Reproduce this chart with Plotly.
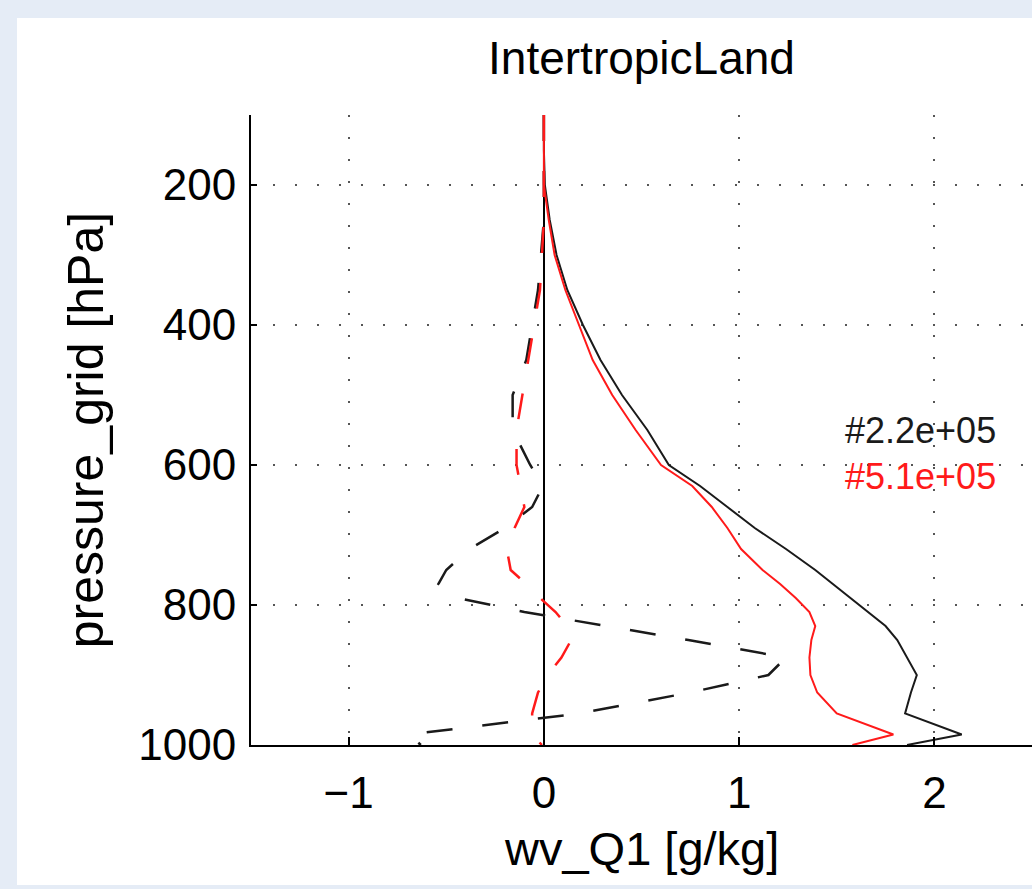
import plotly.graph_objects as go

# --- dados ---
# niveis de pressao (hPa)
pressure = [100, 150, 200, 250, 300, 350, 400, 450, 500, 550, 600, 630, 660,
            690, 720, 750, 770, 790, 810, 830, 850, 875, 900, 925, 955, 985, 1000]

# perfis medios wv_Q1 (linhas cheias)
wv_q1_black = [0.0, 0.0, 0.005, 0.03, 0.065, 0.12, 0.20, 0.29, 0.40, 0.53, 0.64, 0.80, 0.94,
               1.08, 1.24, 1.39, 1.48, 1.57, 1.66, 1.75, 1.81, 1.86, 1.91, 1.88, 1.85, 2.14, 1.86]
wv_q1_red = [0.0, 0.0, 0.0, 0.025, 0.055, 0.11, 0.18, 0.25, 0.35, 0.47, 0.60, 0.76, 0.86,
             0.94, 1.01, 1.12, 1.21, 1.29, 1.36, 1.39, 1.37, 1.36, 1.365, 1.40, 1.50, 1.79, 1.58]

# linhas tracejadas
dash_black = [0.0, 0.0, 0.0, 0.0, -0.015, -0.03, -0.06, -0.09, -0.16, -0.16, -0.07, -0.005, -0.06,
              -0.20, -0.38, -0.50, -0.54, -0.44, -0.10, 0.32, 0.74, 1.24, 1.15, 0.75, 0.18, -0.69, -0.63]
dash_red = [0.0, 0.0, 0.0, 0.0, -0.01, -0.02, -0.05, -0.08, -0.11, -0.14, -0.14, -0.12, -0.10,
            -0.15, -0.19, -0.17, -0.09, -0.02, 0.06, 0.12, 0.14, 0.09, 0.02, -0.03, -0.06, -0.06, -0.01]

count_black = "#2.2e+05"
count_red = "#5.1e+05"

x_ticks = [-1, 0, 1, 2]
y_ticks = [200, 400, 600, 800, 1000]

FONT = "Liberation Sans, Arial, sans-serif"

fig = go.Figure()

fig.add_trace(go.Scatter(x=wv_q1_black, y=pressure, mode="lines",
                         line=dict(color="#1a1a1a", width=2)))
fig.add_trace(go.Scatter(x=wv_q1_red, y=pressure, mode="lines",
                         line=dict(color="#ff1a1a", width=2)))
fig.add_trace(go.Scatter(x=dash_black, y=pressure, mode="lines",
                         line=dict(color="#1a1a1a", width=2.5, dash="26px,30px")))
fig.add_trace(go.Scatter(x=dash_red, y=pressure, mode="lines",
                         line=dict(color="#ff1a1a", width=2.5, dash="26px,30px")))

eixo = dict(
    showgrid=True, gridcolor="#555", gridwidth=1.5, griddash="2px,20px",
    showline=True, linecolor="black", linewidth=2,
    ticks="inside", tickcolor="black", tickwidth=1.5,
    tickfont=dict(family=FONT, size=44, color="black"),
)

fig.update_xaxes(range=[-1.5, 2.5], tickvals=x_ticks, ticklen=8,
                 zeroline=True, zerolinecolor="black", zerolinewidth=1.5,
                 ticklabelstandoff=8, **eixo)
fig.update_yaxes(range=[1000, 100], tickvals=y_ticks, ticklen=6,
                 zeroline=False, ticklabelstandoff=4, **eixo)

fig.update_layout(
    width=1032, height=889,
    margin=dict(l=251, r=0, t=115, b=144),
    paper_bgcolor="#E5ECF6",
    plot_bgcolor="white",
    showlegend=False,
    title=dict(text="IntertropicLand", x=0.5, xref="paper", y=1 - 58 / 889,
               yref="container", xanchor="center", yanchor="middle",
               font=dict(family=FONT, size=46, color="black")),
    shapes=[dict(type="rect", xref="paper", yref="paper", layer="below",
                 x0=-0.2996, x1=1.01, y0=-0.2222, y1=1.154,
                 fillcolor="white", line=dict(width=0))],
    annotations=[
        dict(text="wv_Q1 [g/kg]", xref="paper", yref="paper", x=0.5, y=-0.165,
             xanchor="center", yanchor="middle", showarrow=False,
             font=dict(family=FONT, size=47, color="black")),
        dict(text="pressure_grid [hPa]", xref="paper", yref="paper", x=-0.211, y=0.5,
             xanchor="center", yanchor="middle", textangle=-90, showarrow=False,
             font=dict(family=FONT, size=50, color="black")),
        dict(text=count_black, xref="x", yref="y", x=1.53, y=551,
             xanchor="left", yanchor="middle", showarrow=False,
             font=dict(family=FONT, size=36, color="#1a1a1a")),
        dict(text=count_red, xref="x", yref="y", x=1.53, y=617,
             xanchor="left", yanchor="middle", showarrow=False,
             font=dict(family=FONT, size=36, color="#ff1a1a")),
    ],
)

# sem margem do body, para a figura ocupar a janela inteira
fig.write_html("out.html", config={"displayModeBar": False},
               post_script="document.body.style.margin = '0px';")
